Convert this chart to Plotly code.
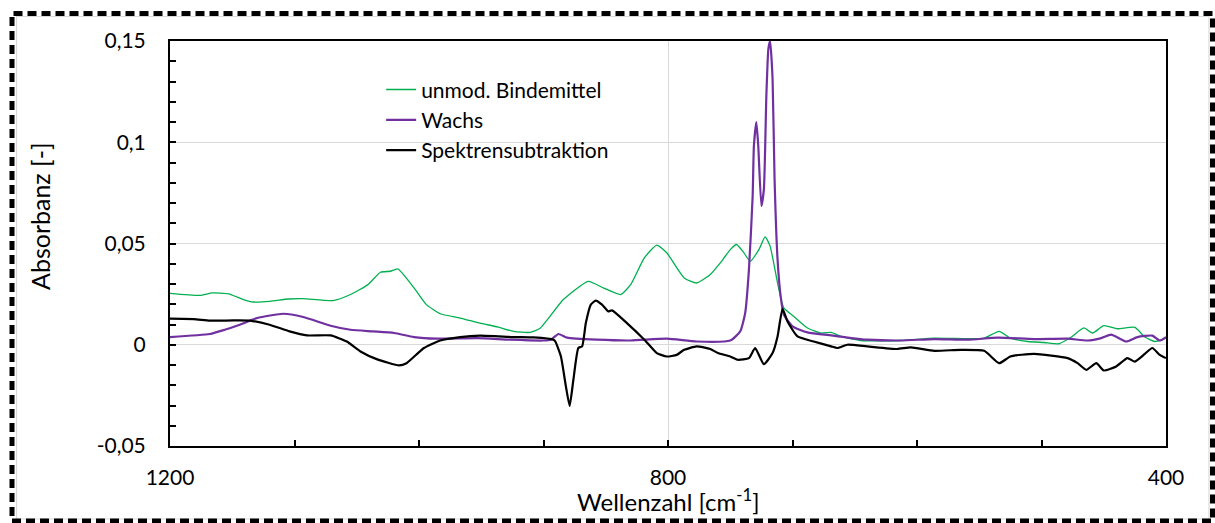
import plotly.graph_objects as go

# ---- data ----
wn_binder = [1200, 1176, 1166, 1153, 1141, 1133, 1120, 1105, 1093, 1069, 1055, 1041, 1031, 1023, 1017,
             1004, 994, 983, 967, 951, 937, 924, 911, 903, 884, 864, 852, 838, 830, 819, 809, 801, 787,
             777, 766, 758, 750, 745, 739, 734, 727, 722, 718, 712, 707, 699, 688, 677, 669, 661, 645,
             613, 586, 559, 546, 534, 525, 511, 498, 486, 476, 466, 459, 450, 439, 425, 417, 409, 403, 400]
abs_binder = [0.0254, 0.0244, 0.0256, 0.0251, 0.0223, 0.0211, 0.0214, 0.0226, 0.0228, 0.0218, 0.0248,
              0.0297, 0.0358, 0.0363, 0.0375, 0.0281, 0.0198, 0.0153, 0.0132, 0.0107, 0.0088, 0.0066,
              0.0061, 0.0080, 0.0223, 0.0313, 0.0281, 0.0248, 0.0297, 0.0429, 0.0492, 0.0454, 0.0330,
              0.0305, 0.0347, 0.0404, 0.0470, 0.0495, 0.0454, 0.0412, 0.0470, 0.0533, 0.0487, 0.0305,
              0.0182, 0.0140, 0.0083, 0.0058, 0.0061, 0.0041, 0.0021, 0.0021, 0.0033, 0.0030, 0.0033,
              0.0066, 0.0033, 0.0016, 0.0011, 0.0005, 0.0038, 0.0083, 0.0058, 0.0094, 0.0079, 0.0086,
              0.0038, 0.0016, 0.0025, 0.0033]

wn_wax = [1200, 1168, 1156, 1144, 1130, 1109, 1093, 1071, 1055, 1037, 1020, 1004, 986, 953, 927, 900,
          894, 888, 881, 857, 830, 801, 777, 750, 742, 738, 735, 732, 731, 729, 727.5, 725, 723, 721,
          719.4, 718, 716, 714.4, 712, 709.5, 707, 700, 688, 667, 653, 640, 613, 586, 559, 535, 506,
          479, 463, 452, 444, 432, 423, 411, 405, 400]
abs_wax = [0.0038, 0.0053, 0.0074, 0.0099, 0.0132, 0.0153, 0.0137, 0.0094, 0.0074, 0.0066, 0.0058,
           0.0038, 0.0030, 0.0033, 0.0025, 0.0021, 0.0025, 0.0053, 0.0035, 0.0025, 0.0021, 0.0030,
           0.0016, 0.0021, 0.0066, 0.0157, 0.0371, 0.0734, 0.0982, 0.1100, 0.0982, 0.0685, 0.0767,
           0.1229, 0.1460, 0.1500, 0.1312, 0.0817, 0.0421, 0.0239, 0.0149, 0.0091, 0.0061, 0.0045,
           0.0033, 0.0025, 0.0021, 0.0028, 0.0025, 0.0035, 0.0028, 0.0030, 0.0021, 0.0033, 0.0050,
           0.0016, 0.0038, 0.0045, 0.0021, 0.0038]

wn_sub = [1200, 1181, 1168, 1149, 1136, 1120, 1104, 1090, 1071, 1058, 1047, 1034, 1016, 1010, 996, 983,
          967, 951, 924, 908, 892, 890.5, 886, 882, 879, 876, 872, 869, 866, 862, 858, 853, 848, 845,
          833, 819, 809, 801, 793, 787, 777, 766, 760, 750, 744, 735, 730, 723, 716, 712, 708, 704,
          696, 683, 669, 664, 656, 640, 616, 605, 586, 565, 546, 534, 525, 506, 479, 471, 464, 456,
          450, 440, 431, 425, 417, 411, 405, 400]
abs_sub = [0.0129, 0.0127, 0.0119, 0.0120, 0.0119, 0.0099, 0.0066, 0.0046, 0.0046, 0.0016, -0.0033,
           -0.0071, -0.0102, -0.0091, -0.0016, 0.0021, 0.0038, 0.0045, 0.0038, 0.0036, 0.0025, 0.0016,
           -0.0058, -0.0206, -0.0302, -0.0173, -0.0016, -0.0008, 0.0107, 0.0198, 0.0218, 0.0198,
           0.0165, 0.0170, 0.0107, 0.0025, -0.0041, -0.0058, -0.0050, -0.0025, -0.0008, -0.0021,
           -0.0041, -0.0058, -0.0074, -0.0066, -0.0016, -0.0096, -0.0041, 0.0041, 0.0177, 0.0115,
           0.0041, 0.0016, -0.0008, -0.0016, 0.0000, -0.0008, -0.0021, -0.0013, -0.0030, -0.0025,
           -0.0030, -0.0091, -0.0058, -0.0045, -0.0066, -0.0091, -0.0124, -0.0091, -0.0127, -0.0107,
           -0.0066, -0.0083, -0.0045, -0.0016, -0.0050, -0.0066]

names = ["unmod. Bindemittel", "Wachs", "Spektrensubtraktion"]
colors = ["#00B050", "#7030A0", "#000000"]
widths = [1.3, 2.2, 2.2]

y_tick_vals = [-0.05, 0, 0.05, 0.1, 0.15]
y_tick_text = ["-0,05", "0", "0,05", "0,1", "0,15"]
x_tick_vals = [1200, 800, 400]
x_tick_text = ["1200", "800", "400"]

FONT = "Lato"

fig = go.Figure()
for x, y, n, c, w in zip([wn_binder, wn_wax, wn_sub], [abs_binder, abs_wax, abs_sub], names, colors, widths):
    fig.add_trace(go.Scatter(x=x, y=y, mode="lines", name=n,
                             line=dict(color=c, width=w, shape="spline", smoothing=0.5)))

fig.update_layout(
    width=1215, height=523,
    margin=dict(l=170, r=49, t=41, b=77),
    paper_bgcolor="white", plot_bgcolor="white",
    font=dict(family=FONT, size=20, color="#000000"),
    showlegend=True,
    legend=dict(x=0.212, y=0.93, xanchor="left", yanchor="top",
                bgcolor="rgba(0,0,0,0)", font=dict(family=FONT, size=21),
                tracegroupgap=0),
    shapes=[
        dict(type="rect", xref="paper", yref="paper", x0=0.1496, x1=0.492, y0=0.70, y1=0.92,
             fillcolor="white", line=dict(width=0), layer="between"),
        dict(type="rect", xref="paper", yref="paper",
             x0=(16.5 - 170) / 996, x1=(1209 - 170) / 996,
             y0=(446 - 519) / 405, y1=(446 - 16.5) / 405,
             line=dict(color="#d9d9d9", width=1.2), fillcolor="rgba(0,0,0,0)", layer="above"),
        dict(type="rect", xref="paper", yref="paper",
             x0=(12 - 170) / 996, x1=(1212.5 - 170) / 996,
             y0=(446 - 521) / 405, y1=(446 - 13.5) / 405,
             line=dict(color="black", width=5, dash="9px,5px"), fillcolor="rgba(0,0,0,0)", layer="above"),
    ],
    annotations=[
        dict(text="Absorbanz [-]", xref="paper", yref="paper", x=(40 - 170) / 996, y=(446 - 216) / 405,
             textangle=-90, showarrow=False, xanchor="center", yanchor="middle",
             font=dict(family=FONT, size=25)),
        dict(text="Wellenzahl [cm<sup>-1</sup>]", xref="paper", yref="paper", x=0.5, y=(446 - 500) / 405,
             showarrow=False, xanchor="center", yanchor="middle",
             font=dict(family=FONT, size=24)),
    ],
)

fig.update_xaxes(range=[1200, 400], tickmode="array", tickvals=x_tick_vals, ticktext=x_tick_text,
                 showgrid=True, gridcolor="#d9d9d9", gridwidth=1.3,
                 showline=True, linecolor="black", linewidth=2, mirror=True,
                 ticks="inside", ticklen=6, tickwidth=1.5, tickcolor="black",
                 minor=dict(tickmode="linear", tick0=400, dtick=100, ticks="inside", ticklen=6, tickwidth=1.5,
                            tickcolor="black", showgrid=False),
                 ticklabelstandoff=12, zeroline=False,
                 tickfont=dict(family=FONT, size=21))
fig.update_yaxes(range=[-0.05, 0.15], tickmode="array", tickvals=y_tick_vals, ticktext=y_tick_text,
                 showgrid=True, gridcolor="#d9d9d9", gridwidth=1.3,
                 showline=True, linecolor="black", linewidth=2, mirror=True,
                 ticks="inside", ticklen=6, tickwidth=1.5, tickcolor="black",
                 minor=dict(tickmode="linear", tick0=0, dtick=0.01, ticks="inside", ticklen=6, tickwidth=1.5,
                            tickcolor="black", showgrid=False),
                 ticklabelstandoff=18, zeroline=False,
                 tickfont=dict(family=FONT, size=21))

fig.write_html("out.html", config={"displayModeBar": False},
               post_script="document.body.style.margin='0';document.body.style.overflow='hidden';")
